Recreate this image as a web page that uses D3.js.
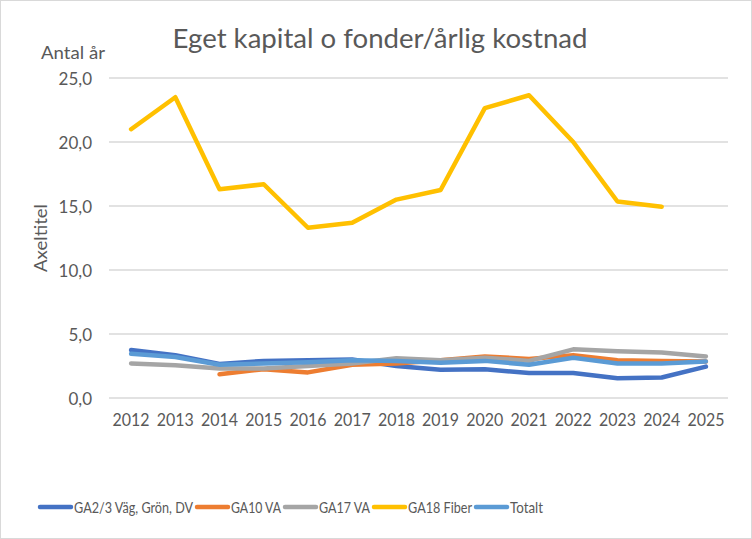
<!DOCTYPE html>
<html>
<head>
<meta charset="utf-8">
<script src="https://cdn.jsdelivr.net/npm/d3@7"></script>
<style>
  body { margin: 0; background: #fff; }
  text { font-family: Lato, "Open Sans", sans-serif; fill: #595959; }
</style>
</head>
<body>
<svg id="chart" width="752" height="539"></svg>
<script>
// Categories and series
const years = ["2012", "2013", "2014", "2015", "2016", "2017", "2018", "2019", "2020", "2021", "2022", "2023", "2024", "2025"];

const ga23 = [3.75, 3.35, 2.65, 2.9, 2.95, 3.0, 2.5, 2.2, 2.25, 1.95, 1.95, 1.55, 1.6, 2.45];
const ga10 = [null, null, 1.85, 2.25, 2.0, 2.6, 2.7, 2.95, 3.25, 3.05, 3.35, 2.95, 2.9, 2.85];
const ga17 = [2.7, 2.55, 2.3, 2.3, 2.5, 2.7, 3.1, 2.95, 3.15, 2.9, 3.8, 3.65, 3.55, 3.25];
const ga18 = [21.0, 23.5, 16.3, 16.7, 13.3, 13.7, 15.5, 16.25, 22.65, 23.65, 20.0, 15.35, 14.95, null];
const totalt = [3.45, 3.2, 2.6, 2.7, 2.8, 2.95, 2.9, 2.75, 2.9, 2.6, 3.15, 2.7, 2.7, 2.85];

const seriesNames = ["GA2/3 Väg, Grön, DV", "GA10 VA", "GA17 VA", "GA18 Fiber", "Totalt"];
const seriesColors = ["#4472C4", "#ED7D31", "#A5A5A5", "#FFC000", "#5B9BD5"];
const yTicks = [0, 5, 10, 15, 20, 25];

const series = [ga23, ga10, ga17, ga18, totalt];

let svg = d3.select("#chart"),
  width = +svg.attr("width"),
  height = +svg.attr("height");

// shrink/grow a text's font size until it is as wide as the original
function fitWidth(t, w) {
  let size = parseFloat(t.style("font-size"));
  let len = t.node().getComputedTextLength();
  t.style("font-size", (size * w / len).toFixed(2) + "px");
  return t;
}

// chart border
svg.append("rect")
  .attr("x", 0.5).attr("y", 0.5)
  .attr("width", width - 1).attr("height", height - 1)
  .attr("fill", "#fff").attr("stroke", "#D9D9D9");

const plot = { left: 109, right: 728, top: 78, bottom: 398 };

let x = d3.scaleBand().domain(years).range([plot.left, plot.right]);
let y = d3.scaleLinear().domain([0, 25]).range([plot.bottom, plot.top]);

const fmt = (d) => d3.format(".1f")(d).replace(".", ",");

// gridlines
svg.append("g")
  .selectAll("line")
  .data(yTicks)
  .join("line")
  .attr("x1", plot.left).attr("x2", plot.right)
  .attr("y1", (d) => y(d)).attr("y2", (d) => y(d))
  .attr("stroke", "#D9D9D9").attr("stroke-width", 1.3);

// y axis labels
let yAxis = svg.append("g")
  .attr("transform", `translate(${plot.left - 17},1)`)
  .call(d3.axisLeft(y).tickValues(yTicks).tickFormat(fmt).tickSize(0).tickPadding(0));
yAxis.select(".domain").remove();
yAxis.selectAll("text")
  .style("font-size", "17px").style("font-family", "Lato").attr("fill", "#595959");

// x axis labels
let xAxis = svg.append("g")
  .attr("transform", `translate(0,${plot.bottom + 16})`)
  .call(d3.axisBottom(x).tickSize(0).tickPadding(0));
xAxis.select(".domain").remove();
xAxis.selectAll("text")
  .style("font-size", "17.5px").style("font-family", "Lato").attr("fill", "#595959")
  .attr("textLength", 37).attr("lengthAdjust", "spacingAndGlyphs");

// lines
const line = d3.line()
  .defined((d) => d != null)
  .x((d, i) => x(years[i]) + x.bandwidth() / 2)
  .y((d) => y(d));

svg.append("g")
  .selectAll("path")
  .data(series)
  .join("path")
  .attr("d", line)
  .attr("fill", "none")
  .attr("stroke", (d, i) => seriesColors[i])
  .attr("stroke-width", 4.5)
  .attr("stroke-linecap", "round")
  .attr("stroke-linejoin", "round");

// titles
fitWidth(svg.append("text")
  .attr("x", 380).attr("y", 48)
  .attr("text-anchor", "middle")
  .style("font-size", "24px")
  .text("Eget kapital o fonder/årlig kostnad"), 415);

svg.append("text")
  .attr("x", 41).attr("y", 59)
  .style("font-size", "17px")
  .attr("textLength", 64).attr("lengthAdjust", "spacingAndGlyphs")
  .text("Antal år");

svg.append("text")
  .attr("transform", "translate(47,238) rotate(-90)")
  .attr("text-anchor", "middle")
  .style("font-size", "17px")
  .attr("textLength", 68).attr("lengthAdjust", "spacingAndGlyphs")
  .text("Axeltitel");

// legend (Calibri is narrow, so squeeze the glyphs to the original widths)
const legendText = [119, 50, 51, 64, 33];
let legend = svg.append("g").attr("transform", "translate(0,507)");
let lx = 40;
seriesNames.forEach((name, i) => {
  legend.append("line")
    .attr("x1", lx).attr("x2", lx + 31)
    .attr("y1", 0).attr("y2", 0)
    .attr("stroke", seriesColors[i])
    .attr("stroke-width", 4.5)
    .attr("stroke-linecap", "round");
  legend.append("text")
    .attr("x", lx + 34).attr("y", 6)
    .style("font-size", "16px")
    .attr("textLength", legendText[i]).attr("lengthAdjust", "spacingAndGlyphs")
    .text(name);
  lx += 34 + legendText[i] + 4;
});
</script>
</body>
</html>
